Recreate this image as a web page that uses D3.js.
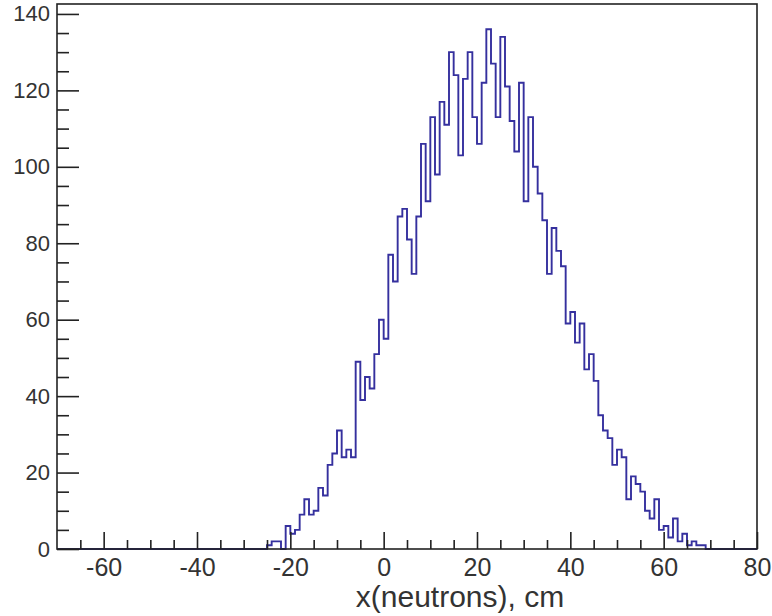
<!DOCTYPE html>
<html>
<head>
<meta charset="utf-8">
<script src="https://cdn.jsdelivr.net/npm/d3@7/dist/d3.min.js"></script>
<style>
  html, body { margin: 0; padding: 0; background: #ffffff; }
  svg { display: block; }
  text { font-family: "Liberation Sans", Arial, sans-serif; fill: #333; }
</style>
</head>
<body>
<svg id="chart" width="772" height="616"></svg>
<script>
// ---- data ----
const binLowEdges = [-25,-24,-23,-22,-21,-20,-19,-18,-17,-16,-15,-14,-13,-12,-11,-10,-9,-8,-7,-6,-5,-4,-3,-2,-1,
  0,1,2,3,4,5,6,7,8,9,10,11,12,13,14,15,16,17,18,19,20,21,22,23,24,25,26,27,28,29,30,31,32,33,34,35,36,37,38,39,
  40,41,42,43,44,45,46,47,48,49,50,51,52,53,54,55,56,57,58,59,60,61,62,63,64,65,66,67,68,69];
const counts = [1,2,2,0,6,4,5,9,13,9,10,16,14,22,25,31,24,26,24,49,39,45,42,51,60,
  55,77,70,87,89,81,72,87,106,91,113,98,117,111,130,124,103,123,130,113,106,122,136,127,113,134,121,112,104,122,91,113,100,93,86,72,84,78,74,59,
  62,54,59,47,51,44,35,31,29,22,26,24,13,19,17,15,10,8,13,5,6,3,8,2,4,1,2,1,1,0];
const binWidth = 1;
const xRange = [-70, 80];
const yRange = [0, 142.6];
const xMajorTicks = [-60, -40, -20, 0, 20, 40, 60, 80];
const xMinorTicks = [-65,-55,-50,-45,-35,-30,-25,-15,-10,-5,5,10,15,25,30,35,45,50,55,65,70,75];
const yMajorTicks = [0, 20, 40, 60, 80, 100, 120, 140];
const yMinorTicks = [5,10,15,25,30,35,45,50,55,65,70,75,85,90,95,105,110,115,125,130,135];
const xTitle = "x(neutrons), cm";

// ---- layout ----
const W = 772, H = 616;
const margin = { left: 57, right: 15, top: 4, bottom: 67 };
const svg = d3.select("#chart");
const x = d3.scaleLinear().domain(xRange).range([margin.left, W - margin.right]);
const y = d3.scaleLinear().domain(yRange).range([H - margin.bottom, margin.top]);
const fmt = d => String(d);

// ---- histogram ----
const pts = [[xRange[0], 0]];
binLowEdges.forEach((e, i) => pts.push([e, counts[i]]));
pts.push([binLowEdges[binLowEdges.length - 1] + binWidth, 0]);
pts.push([xRange[1], 0]);
const line = d3.line().x(d => x(d[0])).y(d => y(d[1])).curve(d3.curveStepAfter);
svg.append("path")
  .attr("d", line(pts))
  .attr("fill", "none")
  .attr("stroke", "#35309e")
  .attr("stroke-width", 1.9);

// ---- axes ----
const xAxisMajor = d3.axisBottom(x).tickValues(xMajorTicks).tickSize(-17).tickPadding(9).tickFormat(fmt);
const xAxisMinor = d3.axisBottom(x).tickValues(xMinorTicks).tickSize(-9).tickFormat("");
const yAxisMajor = d3.axisLeft(y).tickValues(yMajorTicks).tickSize(-22).tickPadding(7).tickFormat(fmt);
const yAxisMinor = d3.axisLeft(y).tickValues(yMinorTicks).tickSize(-12).tickFormat("");

function styleAxis(g, fs) {
  g.select(".domain").remove();
  g.selectAll(".tick line").attr("stroke", "#222").attr("stroke-width", 1.6);
  g.selectAll(".tick text").attr("font-size", fs).attr("fill", "#333")
    .attr("font-family", "'Liberation Sans', Arial, sans-serif");
}
const gx = svg.append("g").attr("transform", `translate(0,${H - margin.bottom})`);
gx.call(xAxisMajor); styleAxis(gx, 25);
const gx2 = svg.append("g").attr("transform", `translate(0,${H - margin.bottom})`);
gx2.call(xAxisMinor); styleAxis(gx2, 25);
const gy = svg.append("g").attr("transform", `translate(${margin.left},0)`);
gy.call(yAxisMajor); styleAxis(gy, 22);
const gy2 = svg.append("g").attr("transform", `translate(${margin.left},0)`);
gy2.call(yAxisMinor); styleAxis(gy2, 22);

// ---- frame ----
svg.append("rect")
  .attr("x", x(xRange[0])).attr("y", y(yRange[1]))
  .attr("width", x(xRange[1]) - x(xRange[0]))
  .attr("height", y(yRange[0]) - y(yRange[1]))
  .attr("fill", "none").attr("stroke", "#222").attr("stroke-width", 1.6);

// ---- title ----
svg.append("text")
  .attr("x", 460).attr("y", 607)
  .attr("text-anchor", "middle")
  .attr("font-size", 30)
  .text(xTitle);
</script>
</body>
</html>
